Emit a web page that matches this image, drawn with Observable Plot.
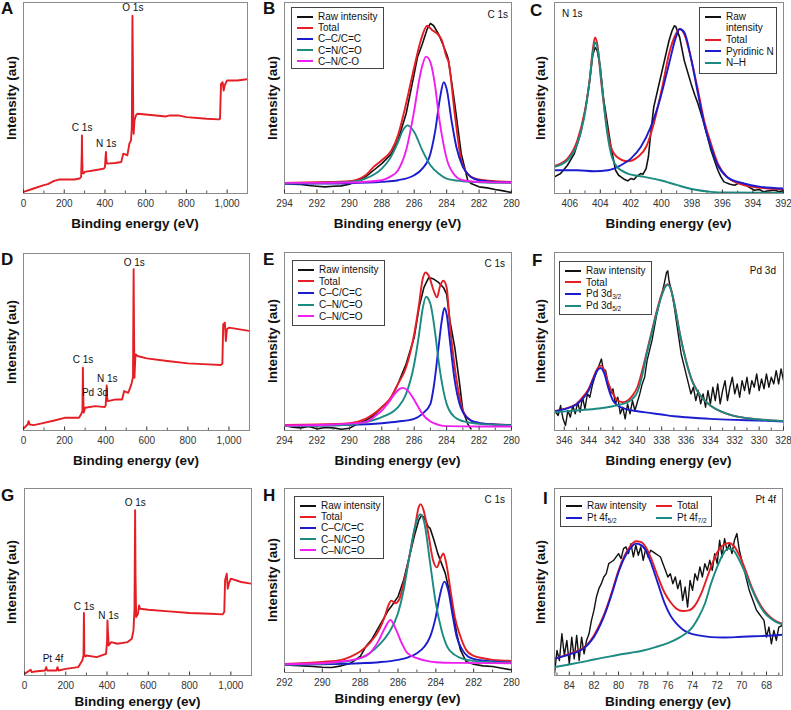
<!DOCTYPE html>
<html><head><meta charset="utf-8">
<script src="https://cdn.jsdelivr.net/npm/d3@7"></script>
<script src="https://cdn.jsdelivr.net/npm/@observablehq/plot@0.6"></script>
<style>
html,body{margin:0;padding:0;background:#fff;}
#root{position:relative;width:791px;height:710px;overflow:hidden;font-family:"Liberation Sans",Arial,Helvetica,sans-serif;color:#111;}
.cell{position:absolute;}
.letter{position:absolute;font-weight:bold;font-size:17px;line-height:17px;}
.ylab{position:absolute;font-weight:bold;font-size:13.5px;white-space:nowrap;transform:translate(-50%,-50%) rotate(-90deg);}
.xlab{position:absolute;font-weight:bold;font-size:13.5px;line-height:15px;white-space:nowrap;transform:translate(-50%,-50%);}
.ptitle{position:absolute;font-size:10px;line-height:11px;white-space:nowrap;transform:translateY(-50%);}
.legend{position:absolute;border:1px solid #444;background:#fff;box-sizing:border-box;}
.entry{position:absolute;display:flex;align-items:center;font-size:10px;line-height:11px;white-space:nowrap;}
.entry.multi{align-items:flex-start;}
.entry.multi .swatch{margin-top:4.5px;}
.swatch{display:inline-block;width:16px;height:2px;margin-right:5px;flex:none;}
sub{font-size:6.5px;vertical-align:-2px;line-height:0;}
</style>
</head><body><div id="root"></div>
<script>
// ---------- colours ----------
const RED = "#e41e24", BLACK = "#111111", BLUE = "#1c1ccf", TEAL = "#1a8a82", MAG = "#f01ef0";

// ---------- tick labels ----------
const ticksSurvey = [0, 200, 400, 600, 800, 1000];
const minorSurvey = [100, 300, 500, 700, 900];
const ticksC1s = [294, 292, 290, 288, 286, 284, 282, 280];
const minorC1s = [293, 291, 289, 287, 285, 283, 281];
const ticksN1s = [406, 404, 402, 400, 398, 396, 394, 392];
const minorN1s = [405, 403, 401, 399, 397, 395, 393];
const ticksPd = [346, 344, 342, 340, 338, 336, 334, 332, 330, 328];
const minorPd = [345, 343, 341, 339, 337, 335, 333, 331, 329];
const ticksH = [292, 290, 288, 286, 284, 282, 280];
const minorH = [291, 289, 287, 285, 283, 281];
const ticksPt = [84, 82, 80, 78, 76, 74, 72, 70, 68];
const minorPt = [85, 83, 81, 79, 77, 75, 73, 71, 69, 67];

// ---------- A: survey ----------
const A_survey = [[0,5],[50,15],[100,25],[120,28],[150,38],[175,42],[250,42],[275,45],[283,50],[286,120],[287,175],[288,120],[290,62],[295,60],[300,65],[350,70],[395,75],[400,80],[403,110],[405,125],[407,100],[410,90],[450,92],[480,95],[490,120],[500,118],[510,115],[520,150],[528,160],[532,200],[535,535],[537,400],[539,230],[541,180],[545,220],[552,235],[560,240],[600,238],[700,232],[720,235],[760,235],[800,230],[900,225],[960,223],[965,225],[970,330],[978,335],[983,310],[988,325],[995,335],[1000,340],[1050,340],[1100,344]];
const A_labels = [{name:"C 1s", e:288, h:198},{name:"N 1s", e:406, h:150},{name:"O 1s", e:537, h:558}];

// ---------- B: C 1s ----------
const B_raw = [[294,30],[293.5,28],[293,27],[292.5,24],[292,22],[291.5,20],[291,22],[290.5,23],[290,28],[289.5,38],[289,50],[288.5,70],[288,90],[287.4,120],[287,160],[286.5,240],[286,360],[285.8,410],[285.5,450],[285.2,495],[285,512],[284.8,505],[284.5,480],[284.2,445],[284,420],[283.9,405],[283.5,270],[283.1,120],[282.7,40],[282.5,30],[282,20],[281.5,17],[281,12],[280.5,8],[280,3]];
const B_total = [[294,32],[292,34],[290,37],[289,55],[288.5,80],[288,100],[287.4,130],[287,175],[286.6,250],[286,380],[285.6,460],[285.2,505],[284.9,492],[284.6,482],[284.3,462],[284,410],[283.9,400],[283.5,240],[283.1,100],[282.8,65],[282.5,50],[282,42],[281,37],[280,35]];
const B_cc = [[294,29],[292,30],[290,31],[288,35],[287,40],[286,55],[285.5,75],[285,120],[284.7,190],[284.4,290],[284.18,335],[284,315],[283.7,220],[283.4,140],[283,80],[282.5,50],[282,40],[281,35],[280,33]];
const B_cn = [[294,30],[292,32],[290,35],[289,45],[288,75],[287.5,105],[287,155],[286.7,190],[286.4,205],[286,185],[285.5,130],[285,85],[284.5,60],[284,45],[283,37],[282,34],[280,32]];
const B_co = [[294,32],[292,32],[290,33],[288,40],[287.5,50],[287,70],[286.5,130],[286,250],[285.7,340],[285.5,385],[285.27,412],[285,395],[284.7,320],[284.5,240],[284.2,150],[284,105],[283.5,55],[283,40],[282,35],[280,33]];

// ---------- C: N 1s ----------
const C_raw = [[407,50],[406.6,60],[406.15,85],[405.7,120],[405.3,180],[404.95,260],[404.7,340],[404.5,415],[404.35,440],[404.2,430],[404,380],[403.8,290],[403.5,200],[403.3,140],[403,70],[402.8,55],[402.65,50],[402.4,42],[402.2,38],[402,45],[401.8,42],[401.6,52],[401.35,60],[401.2,58],[401,75],[400.85,110],[400.7,180],[400.5,260],[400.15,330],[399.8,400],[399.5,460],[399.3,490],[399.15,505],[399.05,502],[398.8,470],[398.5,400],[398.05,330],[397.8,295],[397.6,270],[397.2,210],[396.75,130],[396.3,70],[396.1,50],[395.9,35],[395.5,28],[395.2,25],[394.9,32],[394.6,30],[394.3,20],[393.9,10],[393.6,12],[393.3,5],[393,8],[392.6,10],[392.3,6],[392,8]];
const C_total = [[407,83],[406.15,105],[405.5,160],[405.05,240],[404.7,340],[404.5,430],[404.35,470],[404.2,450],[403.95,340],[403.6,210],[403.3,140],[402.9,110],[402.2,97],[401.55,110],[401,140],[400.5,210],[399.9,330],[399.5,420],[399.05,480],[398.8,495],[398.5,480],[398.05,405],[397.6,310],[397.2,220],[396.75,150],[396.3,90],[395.7,50],[394.6,25],[393.5,17],[392,13]];
const C_pyr = [[407,70],[405.5,70],[404.4,67],[403.5,70],[402.65,85],[402,105],[401.35,140],[400.7,200],[400.05,290],[399.5,390],[399.05,470],[398.8,495],[398.5,485],[398.05,405],[397.6,300],[397.2,210],[396.75,140],[396.3,85],[395.7,50],[394.6,30],[393.5,20],[392,15]];
const C_nh = [[407,80],[406.15,100],[405.5,150],[405.05,230],[404.7,340],[404.5,420],[404.35,455],[404.15,430],[403.9,330],[403.6,200],[403.3,120],[402.9,80],[402.2,60],[401.1,50],[400.05,40],[398.95,25],[397.85,12],[396.75,5],[395.7,3],[392,2]];

// ---------- D: survey ----------
const D_survey = [[0,6],[20,18],[25,28],[30,18],[50,16],[100,23],[150,30],[200,38],[270,38],[280,48],[287,60],[289,188],[291,100],[293,53],[300,68],[350,73],[395,70],[400,75],[405,135],[407,100],[410,88],[450,93],[480,93],[490,118],[510,113],[525,138],[533,160],[536,483],[538,300],[540,158],[545,228],[555,223],[600,216],[700,208],[800,201],[900,198],[960,196],[968,200],[972,318],[980,323],[985,268],[990,303],[1000,308],[1100,298]];
const D_labels = [{name:"C 1s", e:290, h:213},{name:"N 1s", e:408, h:156},{name:"Pd 3d", e:348, h:113},{name:"O 1s", e:539, h:503}];

// ---------- E: C 1s ----------
const E_raw = [[294,15],[293.5,10],[293,8],[292.5,12],[292,5],[291.5,9],[291,8],[290.5,4],[290,7],[289.5,20],[289,30],[288.5,45],[288,70],[287.5,90],[287,140],[286.5,200],[286,280],[285.7,370],[285.4,430],[285.1,460],[284.8,455],[284.5,445],[284.2,430],[284,410],[283.8,330],[283.5,250],[283.2,140],[283,60],[282.7,20],[282.5,5]];
const E_total = [[294,17],[292,18],[290,22],[289,35],[288.5,50],[288,70],[287.5,95],[287,140],[286.5,190],[286,290],[285.7,380],[285.5,450],[285.3,475],[285.1,465],[284.8,420],[284.6,400],[284.4,435],[284.2,450],[284,430],[283.8,320],[283.5,190],[283.2,100],[283,60],[282.5,30],[282,22],[281,18],[280,17]];
const E_cc = [[294,14],[290,17],[288,22],[287,27],[286,35],[285.5,50],[285,80],[284.8,130],[284.5,250],[284.3,330],[284.14,368],[284,350],[283.8,270],[283.5,150],[283.2,80],[283,55],[282.5,30],[282,23],[281,18],[280,16]];
const E_cn = [[294,13],[290,17],[289,25],[288,40],[287,70],[286.5,110],[286,200],[285.7,290],[285.5,360],[285.27,402],[285,380],[284.7,290],[284.5,210],[284.2,120],[284,80],[283.5,40],[283,28],[282,20],[280,16]];
const E_co = [[294,15],[291,18],[289,25],[288.5,40],[288,60],[287.5,90],[287.2,110],[286.9,125],[286.7,128],[286.4,120],[286.1,100],[285.8,75],[285.5,50],[285,27],[284.5,17],[284,13],[282,12],[280,12]];

// ---------- F: Pd 3d ----------
const F_raw = [[346.8,60],[346.5,45],[346.3,75],[346.1,35],[345.9,15],[345.7,60],[345.5,40],[345.3,75],[345.1,50],[344.9,85],[344.7,55],[344.5,100],[344.3,65],[344.1,110],[343.9,100],[343.7,135],[343.5,160],[343.3,180],[343.1,200],[342.95,215],[342.8,185],[342.6,180],[342.4,140],[342.2,110],[342,125],[341.8,80],[341.6,100],[341.4,50],[341.2,70],[341,35],[340.8,80],[340.6,50],[340.4,90],[340.2,60],[340,85],[339.8,110],[339.6,140],[339.4,160],[339.2,210],[339,240],[338.8,270],[338.6,310],[338.4,350],[338.2,380],[338,410],[337.8,440],[337.6,475],[337.5,480],[337.4,450],[337.2,420],[337,380],[336.8,330],[336.6,280],[336.4,230],[336.2,200],[336,170],[335.8,140],[335.6,110],[335.4,130],[335.2,90],[335,120],[334.8,80],[334.6,110],[334.4,70],[334.2,120],[334,80],[333.8,130],[333.6,90],[333.4,140],[333.2,80],[333,120],[332.8,150],[332.6,90],[332.4,130],[332.2,160],[332,110],[331.8,140],[331.6,100],[331.4,150],[331.2,120],[331,160],[330.8,110],[330.6,150],[330.4,130],[330.2,170],[330,120],[329.8,155],[329.6,125],[329.4,170],[329.2,130],[329,160],[328.8,140],[328.6,180],[328.4,140],[328.2,185],[328,150]];
const F_total = [[346.8,58],[346,65],[345,80],[344.5,100],[344,125],[343.6,160],[343.3,185],[343,195],[342.7,180],[342.4,145],[342,110],[341.6,90],[341.2,85],[340.8,90],[340.4,105],[340,130],[339.6,180],[339.2,240],[338.8,300],[338.4,360],[338,410],[337.7,435],[337.5,440],[337.2,420],[336.9,370],[336.5,290],[336,210],[335.5,150],[335,115],[334,75],[333,55],[332,43],[331,37],[330,33],[328,28]];
const F_32 = [[346.8,57],[346,64],[345,78],[344.5,95],[344,120],[343.6,155],[343.3,180],[343,188],[342.7,170],[342.4,130],[342,90],[341.6,75],[341,65],[340,58],[339,53],[338,48],[337,43],[336,40],[334,35],[332,32],[330,30],[328,27]];
const F_52 = [[346.8,55],[345,60],[344,63],[343,67],[342,73],[341,82],[340.4,95],[340,115],[339.6,165],[339.2,235],[338.8,295],[338.4,355],[338,405],[337.7,432],[337.5,438],[337.2,418],[336.9,368],[336.5,288],[336,208],[335.5,148],[335,114],[334,75],[333,55],[332,43],[331,37],[330,33],[328,28]];

// ---------- G: survey ----------
const G_survey = [[0,5],[30,17],[35,10],[50,12],[100,15],[105,25],[110,15],[155,15],[160,25],[165,15],[200,20],[260,25],[280,45],[286,60],[288,187],[290,60],[295,57],[300,60],[350,55],[395,65],[400,100],[402,165],[404,135],[408,90],[420,100],[450,95],[500,100],[520,110],[528,135],[533,200],[536,495],[538,300],[541,175],[550,185],[555,210],[560,200],[600,197],[700,192],[800,187],[900,185],[960,183],[968,190],[972,285],[980,305],[985,260],[990,275],[1000,290],[1050,280],[1100,275]];
const G_labels = [{name:"Pt 4f", e:138, h:50},{name:"C 1s", e:288, h:205},{name:"N 1s", e:407, h:178},{name:"O 1s", e:537, h:517}];

// ---------- H: C 1s ----------
const H_raw = [[292,23],[291.5,21],[291,20],[290.5,18],[290,16],[289.5,15],[289,20],[288.5,28],[288,48],[287.7,78],[287.4,98],[287.1,128],[286.8,158],[286.5,188],[286.3,203],[286,228],[285.7,278],[285.4,348],[285.1,418],[284.9,458],[284.75,473],[284.6,463],[284.4,438],[284.3,433],[284.1,398],[283.9,358],[283.7,328],[283.5,298],[283.3,248],[283.1,188],[282.9,118],[282.7,68],[282.4,33],[282,25],[281.5,20],[281,18],[280.5,13],[280,8]];
const H_total = [[292,26],[290,32],[289,38],[288.5,48],[288,63],[287.5,88],[287,128],[286.7,168],[286.5,203],[286.35,216],[286.15,208],[285.95,218],[285.7,268],[285.4,348],[285.1,438],[284.9,498],[284.8,506],[284.65,488],[284.4,418],[284.15,338],[283.95,316],[283.75,343],[283.6,358],[283.45,328],[283.2,238],[283,168],[282.7,108],[282.4,68],[282,50],[281.5,43],[281,38],[280,35]];
const H_cc = [[292,23],[290,25],[288,28],[287,31],[286,38],[285.5,45],[285,58],[284.6,78],[284.3,108],[284,168],[283.8,228],[283.55,273],[283.35,248],[283.1,168],[282.9,108],[282.6,68],[282.3,48],[282,41],[281,33],[280,30]];
const H_cn = [[292,23],[290,26],[289,31],[288,43],[287.5,58],[287,83],[286.5,118],[286,178],[285.7,248],[285.4,348],[285.1,438],[284.82,476],[284.6,448],[284.3,328],[284,208],[283.7,128],[283.4,78],[283,53],[282.5,40],[282,35],[281,31],[280,29]];
const H_co = [[292,25],[290,28],[289,33],[288,43],[287.5,58],[287,98],[286.7,133],[286.4,158],[286.1,128],[285.8,88],[285.5,58],[285,43],[284.5,35],[284,31],[283,29],[280,28]];

// ---------- I: Pt 4f ----------
const I_raw = [[85.2,5],[85,75],[84.8,45],[84.6,125],[84.4,60],[84.2,105],[84,35],[83.8,115],[83.6,50],[83.4,120],[83.2,45],[83,115],[82.8,65],[82.6,105],[82.4,125],[82.2,165],[82,195],[81.8,235],[81.6,260],[81.4,275],[81.2,295],[81,305],[80.8,335],[80.6,340],[80.4,345],[80.2,355],[80,365],[79.8,350],[79.6,380],[79.4,385],[79.2,365],[79,395],[78.8,355],[78.6,390],[78.4,360],[78.2,385],[78,345],[77.8,380],[77.6,355],[77.4,375],[77.2,370],[77,365],[76.8,360],[76.6,355],[76.4,335],[76.2,315],[76,295],[75.8,305],[75.6,275],[75.4,295],[75.2,260],[75,285],[74.8,225],[74.6,265],[74.4,205],[74.2,285],[74,255],[73.8,305],[73.6,285],[73.4,325],[73.2,295],[73,335],[72.8,315],[72.6,345],[72.4,315],[72.2,365],[72,335],[71.8,405],[71.6,355],[71.4,410],[71.2,375],[71,395],[70.8,365],[70.6,405],[70.4,425],[70.2,375],[70,345],[69.8,315],[69.6,285],[69.4,255],[69.2,235],[69,215],[68.8,195],[68.6,185],[68.4,175],[68.2,165],[68,115],[67.8,145],[67.6,95],[67.4,135],[67.2,105],[67,145],[66.7,150]];
const I_total = [[85.2,50],[84,65],[83,80],[82.5,95],[82,120],[81.5,155],[81,200],[80.5,255],[80,315],[79.5,360],[79,390],[78.6,402],[78.2,400],[77.8,385],[77.3,345],[76.8,295],[76.3,250],[75.8,220],[75.3,200],[74.8,193],[74.3,195],[73.8,210],[73.3,245],[72.8,295],[72.3,345],[71.8,380],[71.3,395],[71,397],[70.7,390],[70.2,360],[69.7,315],[69.2,265],[68.7,225],[68.2,195],[67.7,175],[67.2,162],[66.7,155]];
const I_52 = [[85.2,50],[84,63],[83,77],[82.5,92],[82,115],[81.5,150],[81,195],[80.5,250],[80,310],[79.5,355],[79,383],[78.6,395],[78.3,393],[77.8,375],[77.3,330],[76.8,275],[76.3,220],[75.8,180],[75.3,155],[74.8,138],[74.3,128],[73.5,120],[72.5,115],[71.5,114],[70.5,115],[69.5,117],[68.5,118],[67.5,120],[66.7,122]];
const I_72 = [[85.2,25],[84,33],[83,40],[82,48],[81,55],[80,62],[79,68],[78,75],[77,85],[76,97],[75,115],[74.5,127],[74,145],[73.5,175],[73,215],[72.5,275],[72,325],[71.5,365],[71.1,380],[70.7,375],[70.2,345],[69.7,305],[69.2,260],[68.7,220],[68.2,190],[67.7,172],[67.2,160],[66.7,153]];

// ---------- panel layout ----------
const fmtComma = d3.format(",");
const fmtPlain = d => String(d);
const panels = [
  {id:"A", cell:[0,0,264,237], frame:[23,247,2,193], x:[0,1100], yMax:575, ticks:ticksSurvey, minor:minorSurvey, fmt:fmtComma, xl:"Binding energy (eV)",
   series:[{d:A_survey,c:RED,w:1.9,raw:true}], labels:A_labels},
  {id:"B", cell:[264,0,263,237], frame:[284,511,2,193], x:[294,280], yMax:575, ticks:ticksC1s, minor:minorC1s, fmt:fmtPlain, xl:"Binding energy (eV)",
   series:[{d:B_raw,c:BLACK,w:1.6,raw:true},{d:B_total,c:RED,w:1.9},{d:B_cc,c:BLUE,w:1.9},{d:B_cn,c:TEAL,w:1.9},{d:B_co,c:MAG,w:1.9}],
   title:{t:"C 1s", right:508, y:14},
   legend:{left:291, top:7, w:93, h:62, rowH:11.2, cols:1, items:[["Raw intensity",BLACK],["Total",RED],["C–C/C=C",BLUE],["C=N/C=O",TEAL],["C–N/C-O",MAG]]}},
  {id:"C", cell:[527,0,264,237], frame:[554,783,2,193], x:[407,392], yMax:575, ticks:ticksN1s, minor:minorN1s, fmt:fmtPlain, xl:"Binding energy (ev)",
   series:[{d:C_raw,c:BLACK,w:1.6,raw:true},{d:C_total,c:RED,w:1.9},{d:C_pyr,c:BLUE,w:1.9},{d:C_nh,c:TEAL,w:1.9}],
   title:{t:"N 1s", left:562, y:13},
   legend:{left:699, top:7, w:78, h:67, rowH:11.5, cols:1, items:[["Raw<br>intensity",BLACK,true],["Total",RED],["Pyridinic N",BLUE],["N–H",TEAL]]}},
  {id:"D", cell:[0,237,264,236], frame:[23,249,253,430], x:[0,1100], yMax:530, ticks:ticksSurvey, minor:minorSurvey, fmt:fmtComma, xl:"Binding energy (ev)",
   series:[{d:D_survey,c:RED,w:1.9,raw:true}], labels:D_labels},
  {id:"E", cell:[264,237,263,236], frame:[284,511,252,430], x:[294,280], yMax:535, ticks:ticksC1s, minor:minorC1s, fmt:fmtPlain, xl:"Binding energy (ev)",
   series:[{d:E_raw,c:BLACK,w:1.6,raw:true},{d:E_total,c:RED,w:1.9},{d:E_cc,c:BLUE,w:1.9},{d:E_cn,c:TEAL,w:1.9},{d:E_co,c:MAG,w:1.9}],
   title:{t:"C 1s", right:505, y:263},
   legend:{left:292, top:260, w:93, h:66, rowH:11.7, cols:1, items:[["Raw intensity",BLACK],["Total",RED],["C–C/C=C",BLUE],["C–N/C=O",TEAL],["C–N/C=O",MAG]]}},
  {id:"F", cell:[527,237,264,236], frame:[554,783,252,430], x:[346.8,328], yMax:535, ticks:ticksPd, minor:minorPd, fmt:fmtPlain, xl:"Binding energy (ev)",
   series:[{d:F_raw,c:BLACK,w:1.4,raw:true},{d:F_total,c:RED,w:1.9},{d:F_32,c:BLUE,w:1.9},{d:F_52,c:TEAL,w:1.9}],
   title:{t:"Pd 3d", right:776, y:270},
   legend:{left:559, top:261, w:93, h:54, rowH:11.7, cols:1, items:[["Raw intensity",BLACK],["Total",RED],["Pd 3d<sub>3/2</sub>",BLUE],["Pd 3d<sub>5/2</sub>",TEAL]]}},
  {id:"G", cell:[0,473,264,237], frame:[24,251,488,675], x:[0,1100], yMax:560, ticks:ticksSurvey, minor:minorSurvey, fmt:fmtComma, xl:"Binding energy (ev)",
   series:[{d:G_survey,c:RED,w:1.9,raw:true}], labels:G_labels},
  {id:"H", cell:[264,473,263,237], frame:[284,511,488,672], x:[292,280], yMax:553, ticks:ticksH, minor:minorH, fmt:fmtPlain, xl:"Binding energy (ev)",
   series:[{d:H_raw,c:BLACK,w:1.6,raw:true},{d:H_total,c:RED,w:1.9},{d:H_cc,c:BLUE,w:1.9},{d:H_cn,c:TEAL,w:1.9},{d:H_co,c:MAG,w:1.9}],
   title:{t:"C 1s", right:505, y:499},
   legend:{left:294, top:496, w:90, h:63, rowH:11.2, cols:1, items:[["Raw intensity",BLACK],["Total",RED],["C–C/C=C",BLUE],["C–N/C=O",TEAL],["C–N/C=O",MAG]]}},
  {id:"I", cell:[527,473,264,237], frame:[554,782,488,675], x:[85.2,66.7], yMax:560, ticks:ticksPt, minor:minorPt, fmt:fmtPlain, xl:"Binding energy (ev)",
   series:[{d:I_raw,c:BLACK,w:1.4,raw:true},{d:I_total,c:RED,w:1.9},{d:I_52,c:BLUE,w:1.9},{d:I_72,c:TEAL,w:1.9}],
   title:{t:"Pt 4f", right:776, y:499},
   legend:{left:560, top:496, w:152, h:31, rowH:12, cols:2, colW:90, items:[["Raw intensity",BLACK],["Total",RED],["Pt 4f<sub>5/2</sub>",BLUE],["Pt 4f<sub>7/2</sub>",TEAL]]}}
];
const letterPos = {A:[1,0],B:[263,0],C:[530,2],D:[1,251],E:[263,251],F:[532,252],G:[1,487],H:[263,487],I:[543,490]};

const root = document.getElementById("root");
function addDiv(cls, html, style) {
  const el = document.createElement("div");
  el.className = cls; el.innerHTML = html;
  Object.assign(el.style, style);
  root.appendChild(el);
  return el;
}

for (const p of panels) {
  const [cx, cy, cw, ch] = p.cell;
  const [L, R, T, B] = p.frame;
  const marks = [];
  for (const s of p.series) {
    marks.push(Plot.line(s.d, {x: d => d[0], y: d => d[1], stroke: s.c, strokeWidth: s.w, curve: s.raw ? "linear" : "monotone-x", clip: true}));
  }
  if (p.labels) marks.push(Plot.text(p.labels, {x: "e", y: "h", text: "name", fontSize: 10, fill: "#111"}));
  marks.push(Plot.frame({stroke: "#8a8a8a"}));
  marks.push(Plot.axisX({ticks: p.minor, tickSize: -2.5, tickFormat: () => "", label: null, color: "#555"}));
  marks.push(Plot.axisX({ticks: p.ticks, tickSize: -3.5, tickPadding: 9.5, tickFormat: p.fmt, label: null, fontSize: 10, color: "#333"}));
  const chart = Plot.plot({
    width: cw, height: ch,
    marginLeft: L - cx, marginRight: cx + cw - R, marginTop: T - cy, marginBottom: cy + ch - B,
    x: {domain: p.x},
    y: {domain: [0, p.yMax], axis: null},
    style: {fontFamily: '"Liberation Sans", Arial, sans-serif', background: "transparent", overflow: "visible"},
    marks
  });
  const wrap = document.createElement("div");
  wrap.className = "cell";
  Object.assign(wrap.style, {left: cx + "px", top: cy + "px", width: cw + "px", height: ch + "px"});
  wrap.appendChild(chart);
  root.appendChild(wrap);

  // axis titles
  addDiv("xlab", p.xl, {left: ((L + R) / 2) + "px", top: (B + (p.id >= "G" ? 26 : 30)) + "px"});
  addDiv("ylab", "Intensity (au)", {left: (cx + (cx === 264 ? 8 : cx === 527 ? 13 : 11)) + "px", top: ((T + B) / 2) + "px"});
  // panel letter
  const lp = letterPos[p.id];
  addDiv("letter", p.id, {left: lp[0] + "px", top: lp[1] + "px"});
  // panel title
  if (p.title) {
    const st = {top: p.title.y + "px"};
    if (p.title.right != null) { st.right = (791 - p.title.right) + "px"; } else { st.left = p.title.left + "px"; }
    addDiv("ptitle", p.title.t, st);
  }
  // legend
  if (p.legend) {
    const lg = p.legend;
    const box = addDiv("legend", "", {left: lg.left + "px", top: lg.top + "px", width: lg.w + "px", height: lg.h + "px"});
    lg.items.forEach((it, i) => {
      const col = i % lg.cols, row = Math.floor(i / lg.cols);
      const e = document.createElement("div");
      e.className = "entry" + (it[2] ? " multi" : "");
      e.innerHTML = `<span class="swatch" style="background:${it[1]}"></span><span>${it[0]}</span>`;
      const rowsBefore = lg.items.slice(0, i).filter(x => x[2]).length;
      Object.assign(e.style, {left: (5 + col * (lg.colW || 0)) + "px", top: (3 + (row + rowsBefore) * lg.rowH) + "px"});
      box.appendChild(e);
    });
  }
}
</script>
</body></html>
